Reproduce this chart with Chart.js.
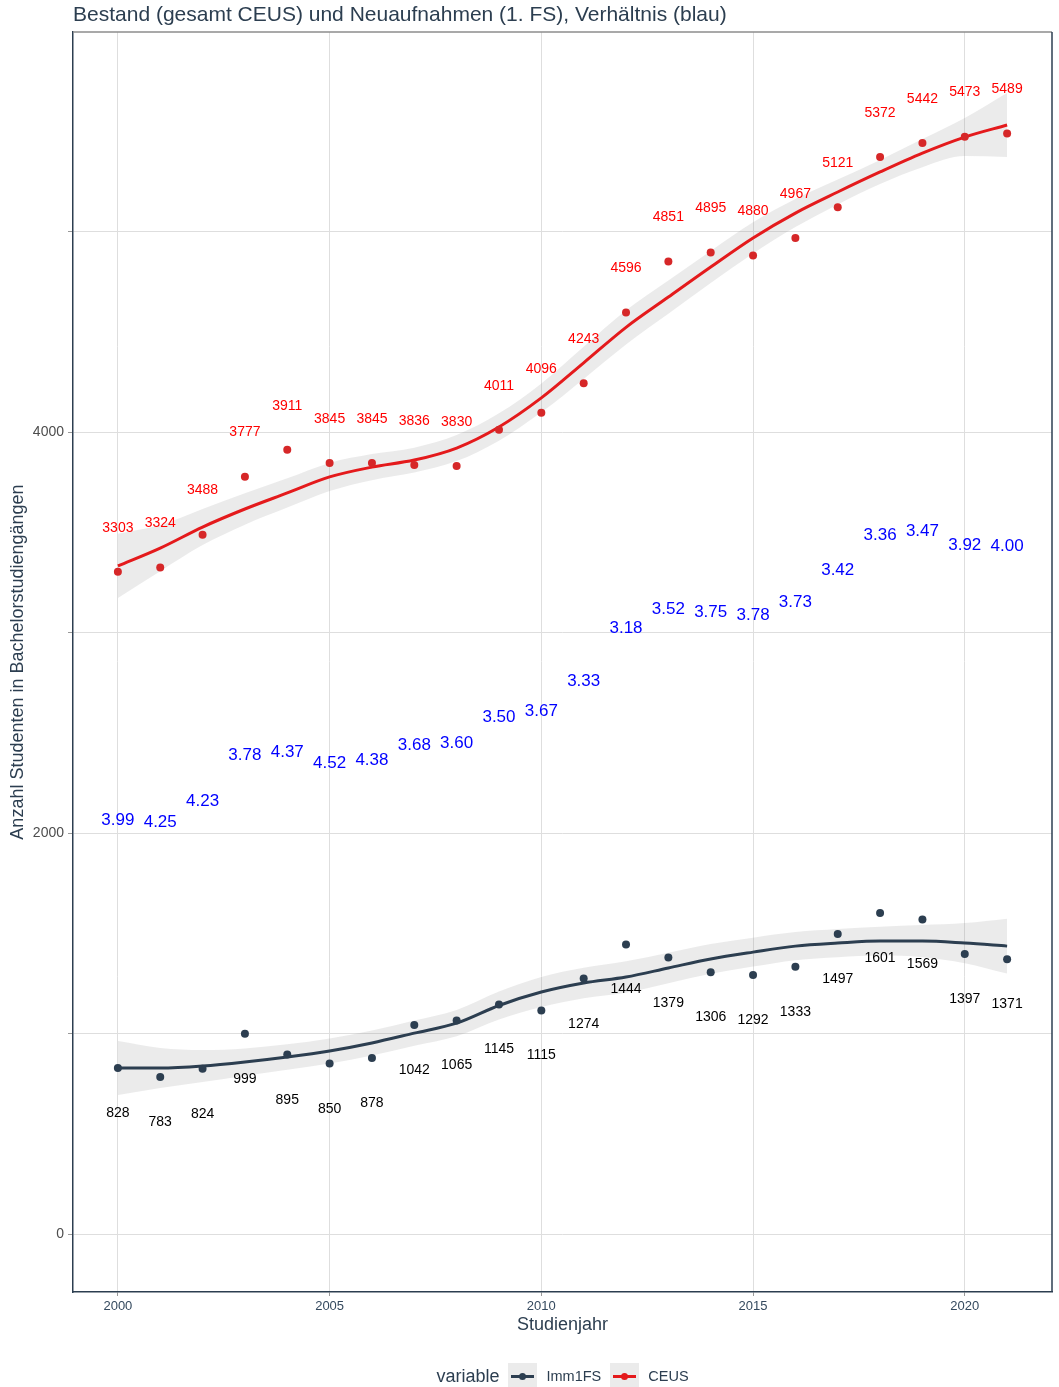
<!DOCTYPE html>
<html>
<head>
<meta charset="utf-8">
<script src="https://cdn.jsdelivr.net/npm/chart.js@4.4.0/dist/chart.umd.min.js"></script>
<style>
  html, body { margin: 0; padding: 0; background: #fff; }
  #wrap { position: relative; width: 1059px; height: 1387px; }
  #legend {
    position: absolute; left: 73px; width: 979px; top: 1363px; height: 26px;
    display: flex; justify-content: center; align-items: center;
    font-family: 'Liberation Sans', Arial, sans-serif; color: #2C3E50;
  }
  #legend .titel { font-size: 18px; margin-right: 9px; }
  #legend .eintrag { font-size: 14.5px; margin: 0 9px; }
  #legend .key { position: relative; width: 29px; height: 26px; background: #EBEBEB; }
  #legend .key .ln { position: absolute; left: 3px; right: 3px; top: 11.5px; height: 3px; }
  #legend .key .dot { position: absolute; left: 11px; top: 9.5px; width: 7px; height: 7px; border-radius: 50%; }
</style>
</head>
<body>
<div id="wrap">
  <canvas id="bestandChart" width="1059" height="1387"></canvas>
  <div id="legend">
    <span class="titel">variable</span>
    <div class="key"><div class="ln" style="background:#2C3E50"></div><div class="dot" style="background:#2C3E50"></div></div>
    <span class="eintrag">Imm1FS</span>
    <div class="key"><div class="ln" style="background:#E41A1C"></div><div class="dot" style="background:#E41A1C"></div></div>
    <span class="eintrag" style="margin-right:0">CEUS</span>
  </div>
</div>
<script>
// Daten
const jahre = [2000, 2001, 2002, 2003, 2004, 2005, 2006, 2007, 2008, 2009, 2010,
               2011, 2012, 2013, 2014, 2015, 2016, 2017, 2018, 2019, 2020, 2021];
const ceus = [3303, 3324, 3488, 3777, 3911, 3845, 3845, 3836, 3830, 4011, 4096,
              4243, 4596, 4851, 4895, 4880, 4967, 5121, 5372, 5442, 5473, 5489];
const imm1fs = [828, 783, 824, 999, 895, 850, 878, 1042, 1065, 1145, 1115,
                1274, 1444, 1379, 1306, 1292, 1333, 1497, 1601, 1569, 1397, 1371];
const verhaeltnis = ['3.99', '4.25', '4.23', '3.78', '4.37', '4.52', '4.38', '3.68', '3.60', '3.50', '3.67',
                     '3.33', '3.18', '3.52', '3.75', '3.78', '3.73', '3.42', '3.36', '3.47', '3.92', '4.00'];

// Glättung (loess) mit Konfidenzband
const ceusGlatt = [3332, 3421, 3526, 3616, 3696, 3776, 3825, 3860, 3920, 4025, 4170,
                   4345, 4522, 4673, 4823, 4968, 5092, 5197, 5297, 5391, 5471, 5531];
const ceusUnten = [3172, 3306, 3436, 3538, 3623, 3706, 3760, 3798, 3855, 3957, 4098,
                   4265, 4437, 4590, 4743, 4890, 5022, 5135, 5237, 5321, 5376, 5371];
const ceusOben = [3492, 3536, 3616, 3694, 3769, 3846, 3890, 3922, 3985, 4093, 4242,
                  4425, 4607, 4756, 4903, 5046, 5162, 5259, 5357, 5461, 5566, 5691];
const immGlatt = [828, 828, 838, 858, 883, 913, 953, 1002, 1052, 1140, 1207,
                  1252, 1282, 1327, 1372, 1406, 1436, 1451, 1461, 1461, 1451, 1436];
const immUnten = [693, 728, 758, 790, 820, 851, 891, 939, 986, 1070, 1132,
                  1176, 1204, 1251, 1298, 1334, 1366, 1381, 1389, 1381, 1351, 1299];
const immOben = [963, 928, 918, 926, 946, 975, 1015, 1065, 1118, 1210, 1282,
                 1328, 1360, 1403, 1446, 1478, 1506, 1521, 1533, 1541, 1551, 1573];

const xTicks = [2000, 2005, 2010, 2015, 2020];
const yTicks = [0, 1000, 2000, 3000, 4000, 5000];
const yLabels = [0, 2000, 4000];

const FONT = "'Liberation Sans', Arial, sans-serif";
const ROT = '#E41A1C';
const NAVY = '#2C3E50';
const BAND = 'rgba(153,153,153,0.2)';

const punkte = (werte) => jahre.map((j, i) => ({ x: j, y: werte[i] }));

// Werte-Beschriftungen (rot oben, schwarz unten, blau in der Mitte)
const labelPlugin = {
    id: 'wertLabels',
    afterDatasetsDraw(chart) {
        const { ctx, scales: { x, y } } = chart;
        ctx.save();
        ctx.textAlign = 'center';
        ctx.textBaseline = 'middle';
        ctx.font = '14px ' + FONT;
        jahre.forEach((j, i) => {
            const px = x.getPixelForValue(j);
            ctx.fillStyle = '#FF0000';
            ctx.fillText(String(ceus[i]), px, y.getPixelForValue(ceus[i] + 220));
            ctx.fillStyle = '#000000';
            ctx.fillText(String(imm1fs[i]), px, y.getPixelForValue(imm1fs[i] - 225));
        });
        ctx.font = '17px ' + FONT;
        ctx.fillStyle = '#0000FF';
        jahre.forEach((j, i) => {
            const mitte = (ceus[i] + imm1fs[i]) / 2;
            ctx.fillText(verhaeltnis[i], x.getPixelForValue(j), y.getPixelForValue(mitte));
        });
        ctx.restore();
    }
};

// Rahmen oben (grau) und rechts (dunkel)
const rahmenPlugin = {
    id: 'rahmen',
    afterDraw(chart) {
        const { ctx, chartArea: a } = chart;
        ctx.save();
        ctx.lineWidth = 1.5;
        ctx.strokeStyle = '#8C8C8C';
        ctx.beginPath();
        ctx.moveTo(a.left, a.top);
        ctx.lineTo(a.right, a.top);
        ctx.stroke();
        ctx.strokeStyle = NAVY;
        ctx.beginPath();
        ctx.moveTo(a.right, a.top);
        ctx.lineTo(a.right, a.bottom);
        ctx.stroke();
        ctx.restore();
    }
};

Chart.defaults.font.family = FONT;

const glatt = { pointRadius: 0, cubicInterpolationMode: 'monotone' };

const ctx = document.getElementById('bestandChart').getContext('2d');
const chart = new Chart(ctx, {
    type: 'line',
    data: {
        datasets: [
            { label: 'CEUS', data: punkte(ceus), showLine: false, pointRadius: 4, pointBorderWidth: 0,
              pointBackgroundColor: '#D62728' },
            { label: 'Imm1FS', data: punkte(imm1fs), showLine: false, pointRadius: 4, pointBorderWidth: 0,
              pointBackgroundColor: NAVY },
            { label: 'CEUS glatt', data: punkte(ceusGlatt), borderColor: ROT, borderWidth: 3, fill: false, ...glatt },
            { label: 'Imm1FS glatt', data: punkte(immGlatt), borderColor: NAVY, borderWidth: 3, fill: false, ...glatt },
            { label: 'CEUS oben', data: punkte(ceusOben), borderWidth: 0, backgroundColor: BAND, fill: 5, ...glatt },
            { label: 'CEUS unten', data: punkte(ceusUnten), borderWidth: 0, fill: false, ...glatt },
            { label: 'Imm1FS oben', data: punkte(immOben), borderWidth: 0, backgroundColor: BAND, fill: 7, ...glatt },
            { label: 'Imm1FS unten', data: punkte(immUnten), borderWidth: 0, fill: false, ...glatt }
        ]
    },
    options: {
        responsive: false,
        animation: false,
        layout: { padding: { top: 0, right: 7, bottom: 50, left: 0 } },
        plugins: {
            legend: { display: false },
            tooltip: { enabled: false },
            title: {
                display: true,
                text: 'Bestand (gesamt CEUS) und Neuaufnahmen (1. FS), Verhältnis (blau)',
                align: 'start',
                fullSize: false,
                color: NAVY,
                font: { size: 21, weight: 'normal' },
                padding: { top: 3, bottom: 3.8 }
            }
        },
        scales: {
            x: {
                type: 'linear',
                min: 1998.94,
                max: 2022.06,
                afterBuildTicks: (s) => { s.ticks = xTicks.map(v => ({ value: v })); },
                afterFit: (s) => { s.height = 45; },
                grid: { color: '#DEDEDE', tickColor: '#999999', tickLength: 4 },
                border: { color: NAVY, width: 1.5 },
                ticks: { color: '#34495E', font: { size: 13 }, padding: 3, maxRotation: 0,
                         callback: (v) => String(v) },
                title: { display: true, text: 'Studienjahr', color: NAVY, font: { size: 18 },
                         padding: { top: 2, bottom: 1 } }
            },
            y: {
                type: 'linear',
                min: -289,
                max: 5995,
                afterBuildTicks: (s) => { s.ticks = yTicks.map(v => ({ value: v })); },
                afterFit: (s) => { s.width = 73; },
                grid: { color: '#DEDEDE', tickColor: '#999999', tickLength: 5 },
                border: { color: NAVY, width: 1.5 },
                ticks: { color: '#4D4D4D', font: { size: 14 }, padding: 4,
                         callback: (v) => yLabels.includes(v) ? String(v) : '' },
                title: { display: true, text: 'Anzahl Studenten in Bachelorstudiengängen', color: NAVY,
                         font: { size: 18 }, padding: { top: 7, bottom: 4 } }
            }
        }
    },
    plugins: [labelPlugin, rahmenPlugin]
});
</script>
</body>
</html>
